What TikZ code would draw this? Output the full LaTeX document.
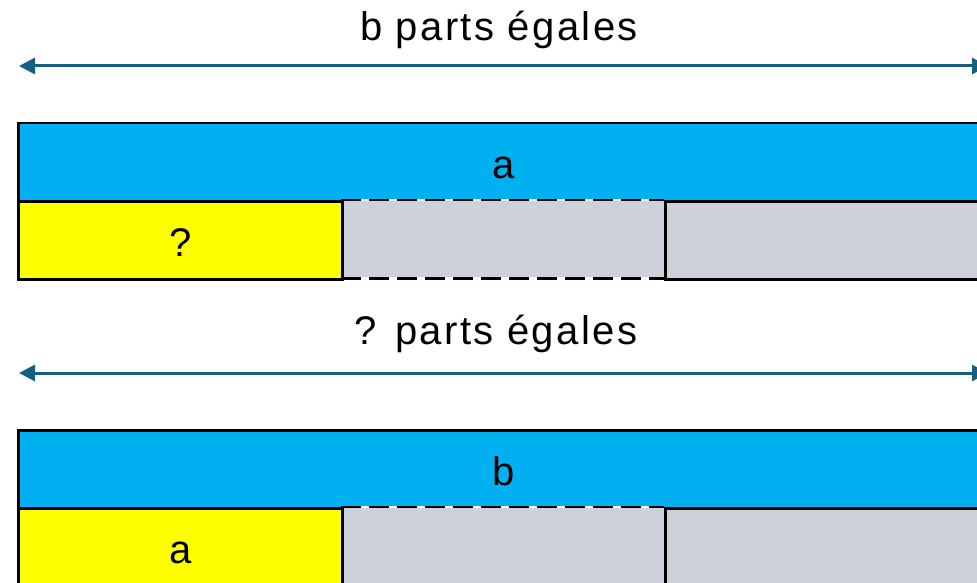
\documentclass[tikz,border=0pt]{standalone}
\usepackage{fontspec}
\setmainfont[LetterSpace=6]{Liberation Sans}
\usetikzlibrary{arrows.meta}
\definecolor{barblue}{HTML}{00B0F0}
\definecolor{partyellow}{HTML}{FFFF00}
\definecolor{partgray}{HTML}{CDD1D9}
\definecolor{dimteal}{HTML}{156082}
% label whose baseline sits a fixed distance below the cell centre
\newcommand{\lowered}[1]{\raisebox{-16pt}[0pt][0pt]{#1}}
\tikzset{
  txt/.style={font=\fontsize{40}{48}\selectfont, inner sep=0pt},
  bar/.style={draw=black, line width=2.5pt, fill=barblue, minimum width=970pt,
    minimum height=78pt, anchor=north west, inner sep=0pt, txt},
  part/.style={draw=black, line width=2.5pt, minimum width=324pt,
    minimum height=78pt, anchor=north west, inner sep=0pt, txt},
  midpart/.style={fill=partgray, minimum width=323pt, minimum height=78pt,
    anchor=north west, inner sep=0pt},
  dimline/.style={draw=dimteal, line width=3pt,
    {Triangle[length=16pt,width=16pt]}-{Triangle[length=16pt,width=16pt]}},
  gapline/.style={draw=white, line width=2.5pt},
  dashline/.style={draw=black, line width=2.5pt, dash pattern=on 20pt off 8pt}
}
\begin{document}
\begin{tikzpicture}[x=1pt, y=-1pt]
\useasboundingbox (0,0) rectangle (977,583);

% --- first model: a shared into b equal parts
\node[txt, anchor=base] (t1) at (499,41) {b parts égales};
\coordinate (l1) at (19,66);
\coordinate (r1) at (988,66);
\draw[dimline] (l1) -- (r1);

\node[bar] (a1) at (17,122) {\lowered{a}};
\node[midpart] (m1) at (341,200) {};
\node[part, fill=partyellow] (q1) at (17,200) {\lowered{?}};
\node[part, fill=partgray, minimum width=323pt] (g1) at (664,200) {};
\draw[gapline] (m1.north west) -- (m1.north east);
\draw[gapline] (m1.south west) -- (m1.south east);
\draw[dashline] (m1.north west) -- (m1.north east);
\draw[dashline] (m1.south west) -- (m1.south east);

% --- second model: b shared into parts of size a
\node[txt, anchor=base] (t2) at (496,344) {? parts égales};
\coordinate (l2) at (19,373);
\coordinate (r2) at (988,373);
\draw[dimline] (l2) -- (r2);

\node[bar] (b2) at (17,429) {\lowered{b}};
\node[midpart] (m2) at (341,507) {};
\node[part, fill=partyellow] (q2) at (17,507) {\lowered{a}};
\node[part, fill=partgray, minimum width=323pt] (g2) at (664,507) {};
\draw[gapline] (m2.north west) -- (m2.north east);
\draw[gapline] (m2.south west) -- (m2.south east);
\draw[dashline] (m2.north west) -- (m2.north east);
\draw[dashline] (m2.south west) -- (m2.south east);
\end{tikzpicture}
\end{document}
